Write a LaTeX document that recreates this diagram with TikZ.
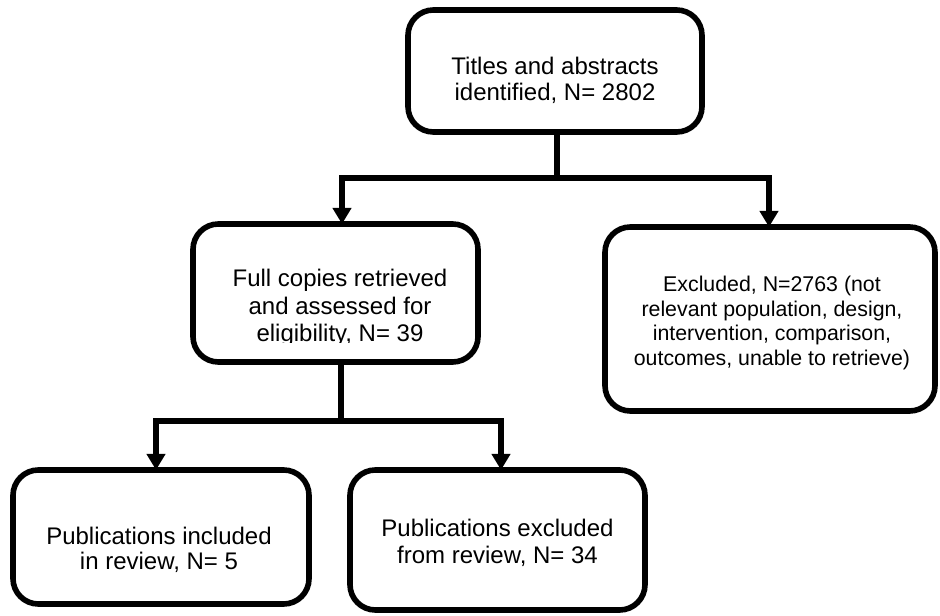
\documentclass[tikz,border=0pt]{standalone}
\usepackage{fontspec}
\setmainfont{Liberation Sans}
\usetikzlibrary{arrows.meta}
\newcommand\mytxt[3][18]{{\fontsize{#1}{#2}\selectfont\begin{tabular}[t]{@{}c@{}}#3\end{tabular}}}
\begin{document}
\begin{tikzpicture}[x=0.75pt,y=-0.75pt,
  boxnode/.style={draw=black,line width=4.2pt,rounded corners=19pt,inner sep=0pt,outer sep=0pt,fill=white},
  txtnode/.style={inner sep=0pt,outer sep=0pt,anchor=base},
  conn/.style={draw=black,line width=3.9pt,line join=miter},
  arr/.style={conn,-{Triangle[width=13.5pt,length=12pt]}}]
\useasboundingbox (0,0) rectangle (940,616);
% boxes
\node[boxnode,minimum width=220.5pt,minimum height=91.5pt] (top) at (555,71) {};
\node[boxnode,minimum width=213.75pt,minimum height=103.5pt] (mid) at (335.5,293) {};
\node[boxnode,minimum width=247.5pt,minimum height=138pt] (right) at (770,319) {};
\node[boxnode,minimum width=222pt,minimum height=100.5pt] (bl) at (161,537) {};
\node[boxnode,minimum width=221.25pt,minimum height=105pt] (br) at (497.5,540) {};
% texts
\node[txtnode] (ttop) at (555,75) {\mytxt{19.1pt}{Titles and abstracts\\identified, N= 2802}};
\begin{scope}
\clip (190,215) rectangle (482,343);
\node[txtnode] (tmid) at (340,287) {\mytxt{20.6pt}{Full copies retrieved\\and assessed for\\eligibility, N= 39}};
\end{scope}
\node[txtnode] (tright) at (772,292) {\mytxt[16]{18.3pt}{Excluded, N=2763 (not\\relevant population, design,\\intervention, comparison,\\outcomes, unable to retrieve)}};
\node[txtnode] (tbl) at (159,545) {\mytxt{18.75pt}{Publications included\\in review, N= 5}};
\node[txtnode] (tbr) at (497.5,537) {\mytxt{19.9pt}{Publications excluded\\from review, N= 34}};
% connectors
\coordinate (j1) at (557,178);
\coordinate (jl) at (342,178);
\coordinate (jr) at (769,178);
\draw[conn] (j1 |- top.south) -- (j1);
\draw[arr] (j1) -- (jl) -- (jl |- mid.north);
\draw[arr] (j1) -- (jr) -- (jr |- right.north);
\coordinate (j2) at (341,421);
\coordinate (j2l) at (156,421);
\coordinate (j2r) at (501,421);
\draw[conn] (j2 |- mid.south) -- (j2);
\draw[arr] (j2) -- (j2l) -- (j2l |- bl.north);
\draw[arr] (j2) -- (j2r) -- (j2r |- br.north);
\end{tikzpicture}
\end{document}
